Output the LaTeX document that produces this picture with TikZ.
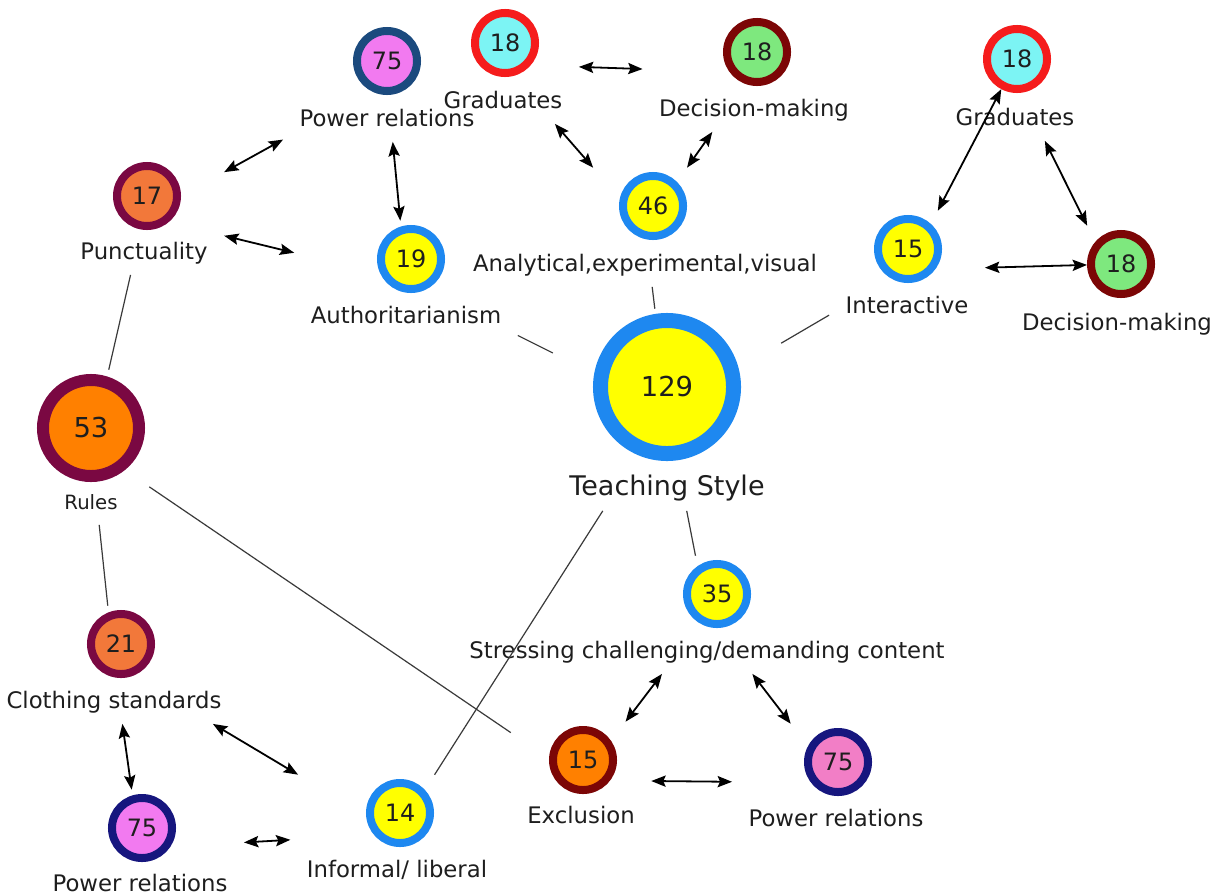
\documentclass[tikz,border=0pt]{standalone}
\usepackage{fontspec}
\setmainfont{DejaVu Sans}
\usetikzlibrary{fit,arrows.meta}

% palette
\definecolor{ink}{HTML}{1E1E1E}
\definecolor{wire}{HTML}{3A3A3A}
\definecolor{sunfill}{HTML}{FFFF00}
\definecolor{skyring}{HTML}{1E88F0}
\definecolor{orchidfill}{HTML}{F27AF0}
\definecolor{rosefill}{HTML}{F27EC6}
\definecolor{steelring}{HTML}{1B4A7E}
\definecolor{navyring}{HTML}{16167E}
\definecolor{cyanfill}{HTML}{7CF4F4}
\definecolor{redring}{HTML}{F51C1C}
\definecolor{mintfill}{HTML}{7EE87E}
\definecolor{bloodring}{HTML}{7C0606}
\definecolor{coralfill}{HTML}{F2783A}
\definecolor{plumring}{HTML}{7A0842}
\definecolor{amberfill}{HTML}{FF8000}

\tikzset{
  ring/.style={circle, inner sep=0pt, minimum size=1.5cm, line width=0.2cm,
    text=ink, font=\fontsize{17}{20}\selectfont},
  bigring/.style={ring, minimum size=2.4cm, line width=0.3cm,
    font=\fontsize{19.5}{23}\selectfont},
  hubring/.style={ring, minimum size=3.325cm, line width=0.375cm,
    font=\fontsize{19.5}{23}\selectfont},
  sunsky/.style={fill=sunfill, draw=skyring},
  orchidsteel/.style={fill=orchidfill, draw=steelring},
  orchidnavy/.style={fill=orchidfill, draw=navyring},
  rosenavy/.style={fill=rosefill, draw=navyring},
  cyanred/.style={fill=cyanfill, draw=redring},
  mintblood/.style={fill=mintfill, draw=bloodring},
  coralplum/.style={fill=coralfill, draw=plumring},
  amberplum/.style={fill=amberfill, draw=plumring},
  amberblood/.style={fill=amberfill, draw=bloodring},
  lbl/.style={inner xsep=0.3cm, inner ysep=0.2cm, text=ink,
    text height=0.7em, text depth=0.2em,
    font=\fontsize{16.2}{19}\selectfont},
  grp/.style={inner sep=0.1cm},
  link/.style={draw=wire, line width=0.03cm},
  twoway/.style={draw=black, line width=0.045cm,
    {Stealth[length=0.36cm,width=0.28cm,inset=0.06cm]}-{Stealth[length=0.36cm,width=0.28cm,inset=0.06cm]}},
}

\begin{document}
\begin{tikzpicture}[x=0.025cm, y=-0.025cm]
\fill[white] (0,0) rectangle (1220,895);
\useasboundingbox (0,0) rectangle (1220,895);

% ---- concepts: ring, caption, and a frame around both
\node[ring, orchidsteel] (c-pr1) at (387,61) {75};
\node[lbl] (l-pr1) at (387,123) {Power relations};
\node[grp, fit=(c-pr1)(l-pr1)] (pr1) {};

\node[ring, cyanred] (c-grada) at (505,43) {18};
\node[lbl] (l-grada) at (503,105) {Graduates};
\node[grp, fit=(c-grada)(l-grada)] (grada) {};

\node[ring, mintblood] (c-dma) at (757,52) {18};
\node[lbl] (l-dma) at (754,113) {Decision-making};
\node[grp, fit=(c-dma)(l-dma)] (dma) {};

\node[ring, sunsky] (c-anal) at (653,206) {46};
\node[lbl] (l-anal) at (645,268) {Analytical,experimental,visual};
\node[grp, fit=(c-anal)(l-anal)] (anal) {};

\node[ring, sunsky] (c-auth) at (411,259) {19};
\node[lbl] (l-auth) at (406,320) {Authoritarianism};
\node[grp, fit=(c-auth)(l-auth)] (auth) {};

\node[ring, coralplum] (c-punc) at (147,196) {17};
\node[lbl] (l-punc) at (144,256) {Punctuality};
\node[grp, fit=(c-punc)(l-punc)] (punc) {};

\node[bigring, amberplum] (c-rules) at (91,428) {53};
\node[lbl, font=\fontsize{14}{17}\selectfont] (l-rules) at (91,506) {Rules};
\node[grp, fit=(c-rules)(l-rules)] (rules) {};

\node[hubring, sunsky] (c-hub) at (667,387) {129};
\node[lbl, font=\fontsize{19.2}{23}\selectfont] (l-hub) at (667,492) {Teaching Style};
\node[grp, fit=(c-hub)(l-hub)] (hub) {};

\node[ring, sunsky] (c-inter) at (908,249) {15};
\node[lbl] (l-inter) at (907,310) {Interactive};
\node[grp, fit=(c-inter)(l-inter)] (inter) {};

\node[ring, cyanred] (c-gradb) at (1017,59) {18};
\node[lbl] (l-gradb) at (1015,122) {Graduates};
\node[grp, fit=(c-gradb)(l-gradb)] (gradb) {};

\node[ring, mintblood] (c-dmb) at (1121,264) {18};
\node[lbl] (l-dmb) at (1117,327) {Decision-making};
\node[grp, fit=(c-dmb)(l-dmb)] (dmb) {};

\node[ring, sunsky] (c-stress) at (717,594) {35};
\node[lbl] (l-stress) at (707,655) {Stressing challenging/demanding content};
\node[grp, fit=(c-stress)(l-stress)] (stress) {};

\node[ring, amberblood] (c-excl) at (583,760) {15};
\node[lbl] (l-excl) at (581,820) {Exclusion};
\node[grp, fit=(c-excl)(l-excl)] (excl) {};

\node[ring, rosenavy] (c-prc) at (838,762) {75};
\node[lbl] (l-prc) at (836,823) {Power relations};
\node[grp, fit=(c-prc)(l-prc)] (prc) {};

\node[ring, coralplum] (c-cloth) at (121,644) {21};
\node[lbl] (l-cloth) at (114,705) {Clothing standards};
\node[grp, fit=(c-cloth)(l-cloth)] (cloth) {};

\node[ring, orchidnavy] (c-prb) at (142,828) {75};
\node[lbl] (l-prb) at (140,888) {Power relations};
\node[grp, fit=(c-prb)(l-prb)] (prb) {};

\node[ring, sunsky] (c-inf) at (400,813) {14};
\node[lbl] (l-inf) at (397,874) {Informal/ liberal};
\node[grp, fit=(c-inf)(l-inf)] (inf) {};

% ---- plain links
\draw[link] (punc) -- (rules);
\draw[link] (rules) -- (cloth);
\draw[link] (rules) -- (excl);
\draw[link] (hub) -- (auth);
\draw[link] (hub) -- (anal);
\draw[link] (hub) -- (inter);
\draw[link] (hub) -- (stress);
\draw[link] (hub) -- (inf);

% ---- two-way relations
\draw[twoway] (punc) -- (pr1);
\draw[twoway] (punc) -- (auth);
\draw[twoway] (pr1) -- (auth);
\draw[twoway] (grada) -- (dma);
\draw[twoway] (grada) -- (anal);
\draw[twoway] (dma) -- (anal);
\draw[twoway] (c-gradb) -- (inter);
\draw[twoway] (gradb) -- (dmb);
\draw[twoway] (inter) -- (c-dmb);
\draw[twoway] (stress) -- (excl);
\draw[twoway] (stress) -- (prc);
\draw[twoway] (excl) -- (prc);
\draw[twoway] (cloth) -- (prb);
\draw[twoway] (cloth) -- (inf);
\draw[twoway] (prb) -- (inf);
\end{tikzpicture}
\end{document}
